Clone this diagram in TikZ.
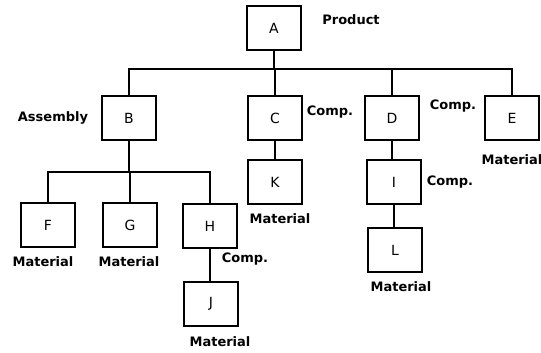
\documentclass[tikz,border=0pt]{standalone}
\usepackage{fontspec}
\setmainfont{DejaVu Sans}
\begin{document}
\begin{tikzpicture}[x=1pt,y=1pt,
  box/.style={draw,line width=2pt,minimum width=54pt,minimum height=44pt,inner sep=0pt,font=\fontsize{14}{16}\selectfont},
  lbl/.style={inner sep=0pt,font=\fontsize{13}{15}\selectfont\bfseries},
  conn/.style={line width=2pt}]
\useasboundingbox (0,0) rectangle (541,-353);
\node[box] (A) at (274,-28) {A};
\node[box] (B) at (129,-118) {B};
\node[box] (C) at (275,-118) {C};
\node[box] (D) at (392,-118) {D};
\node[box] (E) at (512,-118) {E};
\node[box] (K) at (275,-182) {K};
\node[box] (I) at (394,-182) {I};
\node[box] (L) at (395,-250) {L};
\node[box] (F) at (48,-225) {F};
\node[box] (G) at (130,-225) {G};
\node[box] (H) at (210,-226) {H};
\node[box] (J) at (211,-304) {J};
\coordinate (bus1) at (0,-69);
\coordinate (bus2) at (0,-172);
\draw[conn] (A.south) -- (A.south |- bus1);
\draw[conn] (B.north) |- (E.north |- bus1) -- (E.north);
\draw[conn] (C.north) -- (C.north |- bus1);
\draw[conn] (D.north) -- (D.north |- bus1);
\draw[conn] (C.south) -- (C.south |- K.north);
\draw[conn] (D.south) -- (D.south |- I.north);
\draw[conn] (I.south) -- (I.south |- L.north);
\draw[conn] (B.south) -- (B.south |- bus2);
\draw[conn] (F.north) |- (H.north |- bus2) -- (H.north);
\draw[conn] (G.north) -- (G.north |- bus2);
\draw[conn] (H.south) -- (H.south |- J.north);
\node[lbl] (pA) at (351,-20) {Product};
\node[lbl] (pB) at (53,-118) {Assembly};
\node[lbl] (pC) at (330,-112) {Comp.};
\node[lbl] (pD) at (453,-106) {Comp.};
\node[lbl] (pE) at (512,-160) {Material};
\node[lbl] (pI) at (450,-182) {Comp.};
\node[lbl] (pK) at (280,-219) {Material};
\node[lbl] (pL) at (401,-287) {Material};
\node[lbl] (pF) at (43,-262) {Material};
\node[lbl] (pG) at (129,-262) {Material};
\node[lbl] (pH) at (245,-259) {Comp.};
\node[lbl] (pJ) at (220,-342) {Material};
\end{tikzpicture}
\end{document}
